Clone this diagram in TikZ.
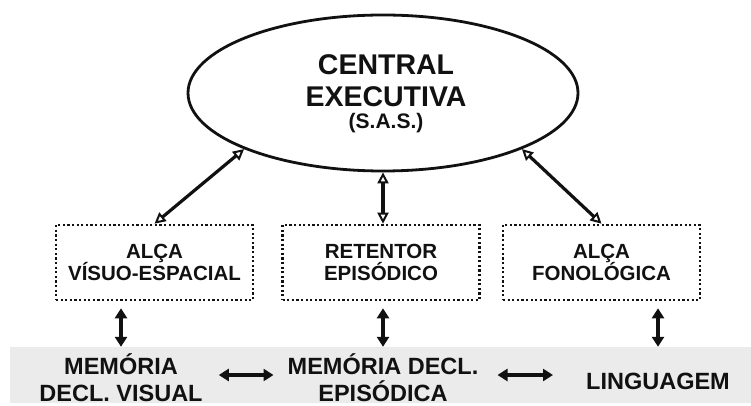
\documentclass[tikz,border=0pt]{standalone}
\usepackage{fontspec}
\setmainfont{Liberation Sans}
\usetikzlibrary{shapes.geometric,arrows.meta}
\definecolor{ink}{HTML}{111111}
\definecolor{band}{HTML}{EBEBEB}
\newcommand\boxfont{\fontsize{20.5}{22}\selectfont\bfseries\lineskiplimit=-100pt\relax}
\newcommand\lowfont{\fontsize{23.5}{27}\selectfont\bfseries\lineskiplimit=-100pt\relax}
\tikzset{
  txt/.style={inner sep=0pt, text=ink, font=\bfseries},
  boxnode/.style={draw=ink, line width=2.6pt, dash pattern=on 2.2pt off 2.4pt,
    minimum width=197pt, minimum height=75pt, inner sep=0pt, align=center,
    text=ink, font=\boxfont},
  lowtxt/.style={inner sep=0pt, align=center, text=ink, font=\lowfont},
  toparr/.style={draw=ink, line width=3.2pt,
    {Triangle[open,length=11pt,width=11pt,line width=2pt]}-{Triangle[open,length=11pt,width=11pt,line width=2pt]}},
  lowarr/.style={draw=ink, line width=3.2pt,
    {Triangle[length=10pt,width=12pt]}-{Triangle[length=10pt,width=12pt]}}
}
\begin{document}
\begin{tikzpicture}[x=1pt,y=-1pt]
\useasboundingbox (0,0) rectangle (751,406);
% band
\node[fill=band, minimum width=741pt, minimum height=56pt, inner sep=0pt] (band) at (380.5,375) {};
% ellipse
\node[ellipse, draw=ink, line width=2.8pt, minimum width=390pt, minimum height=156pt, inner sep=0pt] (ce) at (383,93) {};
\node[txt, anchor=base, font=\fontsize{28.5}{30}\selectfont\bfseries] (t1) at (386,75) {CENTRAL};
\node[txt, anchor=base, font=\fontsize{28.5}{30}\selectfont\bfseries] (t2) at (386,107) {EXECUTIVA};
\node[txt, anchor=base, font=\fontsize{21}{24}\selectfont\bfseries] (t3) at (386,129) {(S.A.S.)};
% boxes
\node[boxnode] (b1) at (154.5,262.5) {ALÇA\\VÍSUO-ESPACIAL};
\node[boxnode] (b2) at (381,262.5) {RETENTOR\\EPISÓDICO};
\node[boxnode] (b3) at (601.5,262.5) {ALÇA\\FONOLÓGICA};
% bottom texts
\node[lowtxt] (mv) at (121,378) {MEMÓRIA\\DECL. VISUAL};
\node[lowtxt] (me) at (383,378) {MEMÓRIA DECL.\\EPISÓDICA};
\node[lowtxt, anchor=base] (lg) at (658,389) {LINGUAGEM};
% top arrows
\draw[toparr] (ce.202) -- (b1.north);
\draw[toparr] (ce.south) -- (ce.south |- b2.north);
\draw[toparr] (ce.338) -- (b3.north);
% lower vertical arrows
\draw[lowarr] ([yshift=-7pt]b1.south -| mv) -- (mv |- band.north);
\draw[lowarr] ([yshift=-7pt]b2.south -| me) -- (me |- band.north);
\draw[lowarr] ([yshift=-7pt]b3.south -| lg) -- (lg |- band.north);
% horizontal arrows
\draw[lowarr, shorten <=16pt, shorten >=14pt] ([yshift=3pt]mv.east) -- ([yshift=3pt]mv.east -| me.west);
\draw[lowarr, shorten <=19pt, shorten >=33pt] ([yshift=3pt]me.east) -- ([yshift=3pt]me.east -| lg.west);
\end{tikzpicture}
\end{document}
